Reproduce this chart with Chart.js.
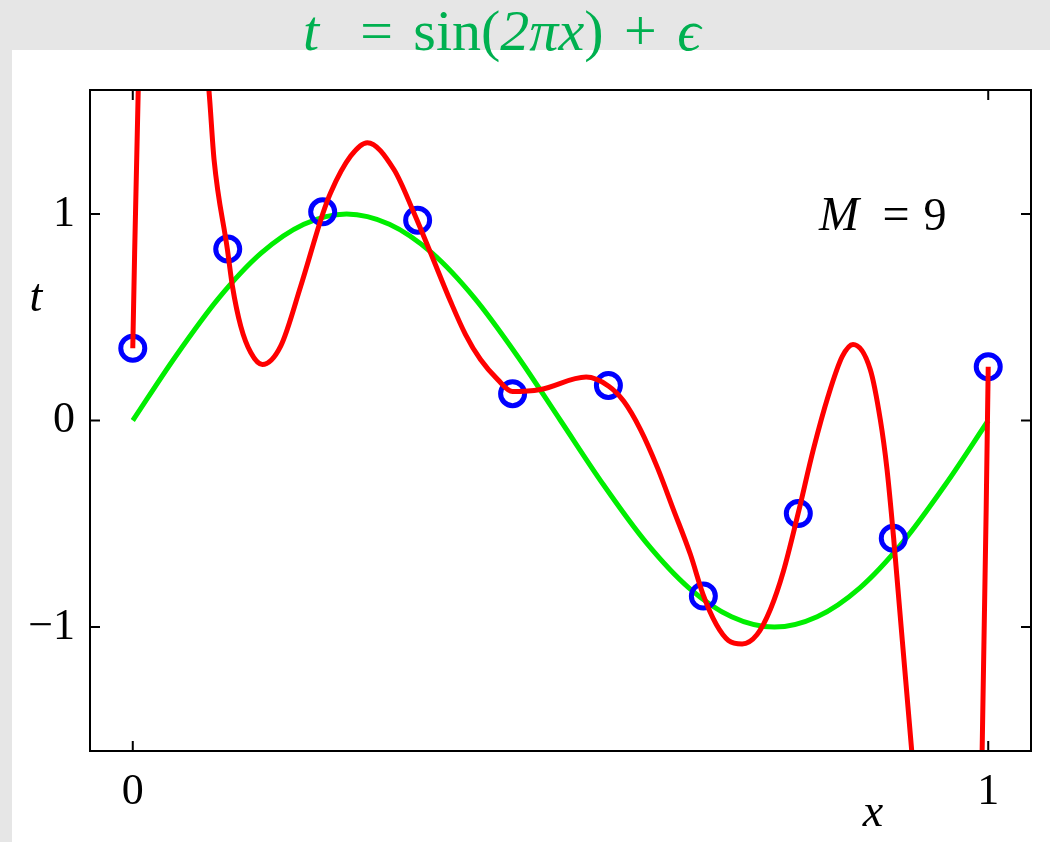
<!DOCTYPE html>
<html>
<head>
<meta charset="utf-8">
<title>Polynomial fit, M = 9</title>
<script src="https://cdn.jsdelivr.net/npm/chart.js@4/dist/chart.umd.min.js"></script>
<style>
  html, body { margin: 0; padding: 0; }
  body { width: 1050px; height: 842px; background: #e6e6e6; position: relative; overflow: hidden; }
  #panel { position: absolute; left: 12px; top: 50px; right: 0; bottom: 0; background: #fff; }
  #plot { position: absolute; left: 0; top: 0; }
  #title {
    position: absolute; left: 303px; top: 2px;
    font-family: "Liberation Serif", serif; font-size: 58px; line-height: 58px;
    color: #00b050; white-space: pre; word-spacing: 6px;
  }
</style>
</head>
<body>
<div id="panel"></div>
<canvas id="plot" width="1050" height="842"></canvas>
<div id="title"><i>t</i>  = sin(<i>2πx</i>) + <i>ϵ</i></div>

<script>
// Axis ticks
const xTickValues = [0, 1];
const yTickValues = [-1, 0, 1];

// Observed points (blue circles)
const obsX = [0, 0.111, 0.222, 0.333, 0.444, 0.556, 0.667, 0.778, 0.889, 1];
const obsT = [0.35, 0.83, 1.01, 0.97, 0.13, 0.17, -0.85, -0.45, -0.57, 0.26];

// True curve sin(2πx)
const trueX = [0, 0.05, 0.1, 0.15, 0.2, 0.25, 0.3, 0.35, 0.4, 0.45, 0.5,
               0.55, 0.6, 0.65, 0.7, 0.75, 0.8, 0.85, 0.9, 0.95, 1];
const trueT = [0, 0.31, 0.59, 0.81, 0.95, 1, 0.95, 0.81, 0.59, 0.31, 0,
               -0.31, -0.59, -0.81, -0.95, -1, -0.95, -0.81, -0.59, -0.31, 0];

// M = 9 fit (values beyond ±1.6 run off the frame)
const fitX = [0, 0.0065, 0.045, 0.089, 0.095, 0.1106, 0.1165, 0.1262, 0.1379, 0.1515,
              0.1729, 0.1963, 0.222, 0.2313, 0.2547, 0.2742, 0.3053, 0.3286, 0.3481, 0.3715,
              0.389, 0.4065, 0.4264, 0.4439, 0.4766, 0.530, 0.5564, 0.574, 0.5935, 0.6133,
              0.632, 0.6519, 0.6667, 0.6822, 0.6963, 0.7123, 0.7298, 0.7453, 0.7605, 0.7778,
              0.7956, 0.8131, 0.8294, 0.8419, 0.8621, 0.8738, 0.8817, 0.8894, 0.911, 0.955,
              0.9928, 1];
const fitT = [0.35, 1.62, 3.2, 1.6, 1.264, 0.828, 0.65, 0.457, 0.329, 0.271,
              0.36, 0.65, 1.0, 1.103, 1.28, 1.345, 1.215, 1.006, 0.812, 0.576,
              0.416, 0.295, 0.199, 0.14, 0.15, 0.21, 0.166, 0.093, -0.044, -0.228,
              -0.431, -0.649, -0.843, -0.988, -1.065, -1.082, -1.036, -0.915, -0.731, -0.45,
              -0.14, 0.121, 0.31, 0.368, 0.247, 0.005, -0.237, -0.568, -1.62, -3.4,
              -1.62, 0.26];

const TICK_LEN = 10;
const SERIF = "'Liberation Serif', 'DejaVu Serif', serif";

function toPoints(xs, ys) {
  return xs.map((x, i) => ({ x, y: ys[i] }));
}

// Frame with inward ticks on all four sides, plus the axis letters and the M label
const framePlugin = {
  id: "frame",
  afterDatasetsDraw(chart) {
    const { ctx, chartArea: a, scales } = chart;
    ctx.save();
    ctx.strokeStyle = "#000";
    ctx.lineWidth = 2;
    ctx.strokeRect(a.left, a.top, a.right - a.left, a.bottom - a.top);
    ctx.beginPath();
    xTickValues.forEach((v) => {
      const p = scales.x.getPixelForValue(v);
      ctx.moveTo(p, a.bottom); ctx.lineTo(p, a.bottom - TICK_LEN);
      ctx.moveTo(p, a.top); ctx.lineTo(p, a.top + TICK_LEN);
    });
    yTickValues.forEach((v) => {
      const p = scales.y.getPixelForValue(v);
      ctx.moveTo(a.left, p); ctx.lineTo(a.left + TICK_LEN, p);
      ctx.moveTo(a.right, p); ctx.lineTo(a.right - TICK_LEN, p);
    });
    ctx.stroke();

    ctx.fillStyle = "#000";
    ctx.textBaseline = "alphabetic";
    ctx.textAlign = "center";
    ctx.font = "italic 46px " + SERIF;
    ctx.fillText("t", 36, 311);
    ctx.fillText("x", 873, 826);

    ctx.textAlign = "left";
    ctx.font = "italic 48px " + SERIF;
    ctx.fillText("M", 819, 230);
    ctx.textAlign = "center";
    ctx.font = "48px " + SERIF;
    ctx.fillText("=", 896, 230);
    ctx.font = "46px " + SERIF;
    ctx.fillText("9", 935, 230);
    ctx.restore();
  },
};

new Chart(document.getElementById("plot"), {
  type: "scatter",
  data: {
    datasets: [
      {
        label: "M = 9 fit",
        data: toPoints(fitX, fitT),
        showLine: true,
        borderColor: "#ff0000",
        borderWidth: 5,
        pointRadius: 0,
        cubicInterpolationMode: "monotone",
        clip: 0,
        order: 0,
      },
      {
        label: "data",
        data: toPoints(obsX, obsT),
        showLine: false,
        pointRadius: 12,
        pointBorderWidth: 5,
        pointBorderColor: "#0000ff",
        pointBackgroundColor: "rgba(0,0,0,0)",
        order: 1,
      },
      {
        label: "sin(2πx)",
        data: toPoints(trueX, trueT),
        showLine: true,
        borderColor: "#00ee00",
        borderWidth: 5,
        pointRadius: 0,
        cubicInterpolationMode: "monotone",
        clip: 0,
        order: 2,
      },
    ],
  },
  options: {
    responsive: false,
    animation: false,
    devicePixelRatio: 1,
    layout: { padding: { top: 90, right: 19, left: 0, bottom: 0 } },
    plugins: { legend: { display: false }, tooltip: { enabled: false } },
    scales: {
      x: {
        type: "linear",
        min: -0.05,
        max: 1.05,
        grid: { display: false, drawTicks: false },
        border: { display: false },
        afterBuildTicks: (axis) => { axis.ticks = xTickValues.map((v) => ({ value: v })); },
        afterFit: (axis) => { axis.height = 91; },
        ticks: { color: "#000", padding: 15, maxRotation: 0, font: { family: SERIF, size: 44 } },
      },
      y: {
        type: "linear",
        min: -1.6,
        max: 1.6,
        grid: { display: false, drawTicks: false },
        border: { display: false },
        afterBuildTicks: (axis) => { axis.ticks = yTickValues.map((v) => ({ value: v })); },
        afterFit: (axis) => { axis.width = 90; },
        ticks: {
          color: "#000",
          padding: 15,
          font: { family: SERIF, size: 44 },
          callback: (v) => (v < 0 ? "\u2212" + Math.abs(v) : String(v)),
        },
      },
    },
  },
  plugins: [framePlugin],
});
</script>
</body>
</html>
